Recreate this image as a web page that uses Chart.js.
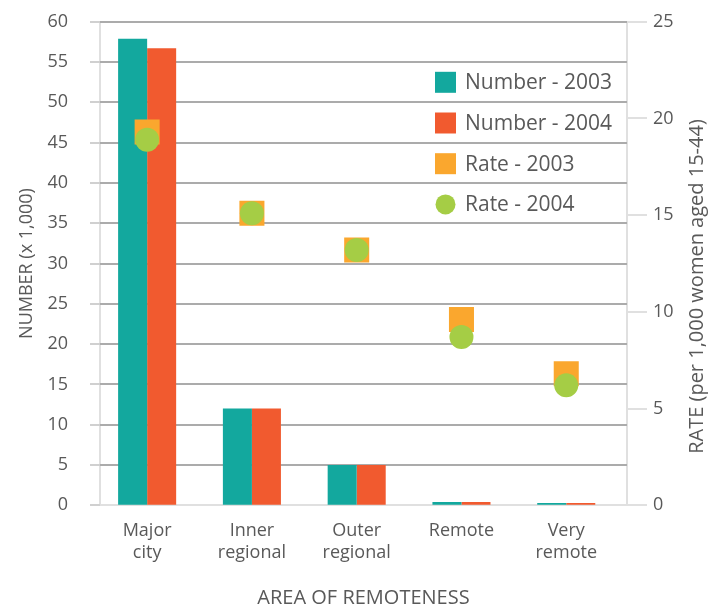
<!DOCTYPE html>
<html>
<head>
<meta charset="utf-8">
<title>Number and rate by area of remoteness</title>
<script src="https://cdn.jsdelivr.net/npm/chart.js@4/dist/chart.umd.min.js"></script>
<style>
    body { margin: 0; background: #ffffff; }
    #wrap { width: 722px; height: 610px; position: relative; }
</style>
</head>
<body>
<div id="wrap"><canvas id="remotenessChart"></canvas></div>
<script>
// Chart data
const categories = [['Major', 'city'], ['Inner', 'regional'], ['Outer', 'regional'], 'Remote', ['Very', 'remote']];
const number2003 = [57.9, 12.0, 5.0, 0.4, 0.3];
const number2004 = [56.7, 12.0, 5.0, 0.4, 0.3];
const rate2003 = [19.3, 15.1, 13.2, 9.6, 6.8];
const rate2004 = [18.9, 15.1, 13.2, 8.7, 6.2];
const numberTicks = [0, 5, 10, 15, 20, 25, 30, 35, 40, 45, 50, 55, 60];
const rateTicks = [0, 5, 10, 15, 20, 25];

const xTitle = 'AREA OF REMOTENESS';
const leftTitle = 'NUMBER (x 1,000)';
const rightTitle = 'RATE (per 1,000 women aged 15-44)';

// Colours
const theme = {
    teal: '#13a89e',
    red: '#f15a2f',
    orange: '#faa72e',
    green: '#a5cd45',
    text: '#595959',
    grid: '#ababab',
    axis: '#e0e0e0',
    tick: '#d0d0d0'
};

const FONT = "'Open Sans', 'Noto Sans', sans-serif";

// Horizontal grid lines and short left ticks, placed with the left scale
const numberGrid = {
    id: 'numberGrid',
    beforeDatasetsDraw(chart) {
        const ctx = chart.ctx;
        const y = chart.scales.y;
        const area = chart.chartArea;
        ctx.save();
        ctx.lineWidth = 2;
        numberTicks.forEach(v => {
            const py = Math.round(y.getPixelForValue(v));
            ctx.strokeStyle = theme.tick;
            ctx.beginPath();
            ctx.moveTo(area.left - 10, py);
            ctx.lineTo(area.left, py);
            ctx.stroke();
            if (v === 0) return;
            ctx.strokeStyle = theme.grid;
            ctx.beginPath();
            ctx.moveTo(area.left, py);
            ctx.lineTo(area.right, py);
            ctx.stroke();
        });
        ctx.restore();
    }
};

// Legend inside the plot area, top right (built from the datasets)
const insideLegend = {
    id: 'insideLegend',
    afterDraw(chart) {
        const ctx = chart.ctx;
        const boxX = 435, firstY = 82.3, rowGap = 40.7, box = 21;
        ctx.save();
        ctx.font = '21px ' + FONT;
        ctx.textAlign = 'left';
        ctx.textBaseline = 'middle';
        chart.data.datasets.forEach((ds, i) => {
            const cy = firstY + i * rowGap;
            ctx.fillStyle = ds.backgroundColor;
            ctx.beginPath();
            if (ds.pointStyle === 'circle') {
                ctx.arc(boxX + box / 2, cy, box / 2 - 0.5, 0, Math.PI * 2);
            } else {
                ctx.rect(boxX, cy - box / 2, box, box);
            }
            ctx.fill();
            ctx.fillStyle = theme.text;
            ctx.fillText(ds.label, boxX + box + 9, cy + 1);
        });
        ctx.restore();
    }
};

// Right axis title, reading bottom to top like the left one
const rightTitlePlugin = {
    id: 'rightTitle',
    afterDraw(chart) {
        const ctx = chart.ctx;
        const y2 = chart.scales.y2;
        ctx.save();
        ctx.translate(697, (y2.top + y2.bottom) / 2 + 23);
        ctx.rotate(-Math.PI / 2);
        ctx.font = '20px ' + FONT;
        ctx.fillStyle = theme.text;
        ctx.textAlign = 'center';
        ctx.textBaseline = 'middle';
        ctx.fillText(rightTitle, 0, 0);
        ctx.restore();
    }
};

const ctx = document.getElementById('remotenessChart');

new Chart(ctx, {
    data: {
        labels: categories,
        datasets: [
            {
                type: 'bar',
                label: 'Number - 2003',
                data: number2003,
                backgroundColor: theme.teal,
                borderWidth: 0,
                yAxisID: 'y',
                order: 2,
                categoryPercentage: 0.554,
                barPercentage: 1.0
            },
            {
                type: 'bar',
                label: 'Number - 2004',
                data: number2004,
                backgroundColor: theme.red,
                borderWidth: 0,
                yAxisID: 'y',
                order: 3,
                categoryPercentage: 0.554,
                barPercentage: 1.0
            },
            {
                type: 'line',
                label: 'Rate - 2003',
                data: rate2003,
                showLine: false,
                backgroundColor: theme.orange,
                borderColor: theme.orange,
                borderWidth: 0,
                pointStyle: 'rect',
                pointRadius: 17.7,
                pointBorderWidth: 0,
                pointBackgroundColor: theme.orange,
                yAxisID: 'y2',
                order: 1
            },
            {
                type: 'line',
                label: 'Rate - 2004',
                data: rate2004,
                showLine: false,
                backgroundColor: theme.green,
                borderColor: theme.green,
                borderWidth: 0,
                pointStyle: 'circle',
                pointRadius: 12,
                pointBorderWidth: 0,
                pointBackgroundColor: theme.green,
                yAxisID: 'y2',
                order: 0
            }
        ]
    },
    options: {
        responsive: true,
        maintainAspectRatio: false,
        animation: false,
        events: [],
        layout: {
            autoPadding: false,
            padding: { left: 4, right: 42.4, top: 21.7, bottom: 0 }
        },
        plugins: {
            tooltip: { enabled: false },
            legend: { display: false }
        },
        scales: {
            x: {
                type: 'category',
                offset: true,
                afterBuildTicks(scale) {
                    // slight shift so the groups sit where the reference puts them
                    scale._startValue = -0.45;
                    scale._valueRange = 5.03;
                },
                grid: { display: false, drawTicks: false },
                border: { display: true, color: theme.axis, width: 2 },
                ticks: {
                    color: theme.text,
                    padding: 15,
                    maxRotation: 0,
                    autoSkip: false,
                    font: { size: 18, lineHeight: 1.2, family: FONT }
                },
                title: {
                    display: true,
                    text: xTitle,
                    color: theme.text,
                    font: { size: 20, lineHeight: 1.2, family: FONT },
                    padding: { top: 7.5, bottom: 0 }
                }
            },
            y: {
                type: 'linear',
                position: 'left',
                min: numberTicks[0],
                max: numberTicks[numberTicks.length - 1],
                grid: {
                    drawOnChartArea: false,
                    tickLength: 22,
                    color: 'rgba(0,0,0,0)',
                    tickColor: 'rgba(0,0,0,0)'
                },
                border: { display: true, color: theme.axis, width: 2 },
                ticks: {
                    color: theme.text,
                    padding: 10,
                    stepSize: numberTicks[1] - numberTicks[0],
                    font: { size: 18, family: FONT }
                },
                title: {
                    display: true,
                    text: leftTitle,
                    color: theme.text,
                    font: { size: 18, lineHeight: 1.2, family: FONT },
                    padding: { top: 11.8, bottom: 0 }
                }
            },
            y2: {
                type: 'linear',
                position: 'right',
                min: rateTicks[0],
                max: rateTicks[rateTicks.length - 1],
                grid: {
                    drawOnChartArea: false,
                    tickLength: 20,
                    color: theme.axis,
                    tickColor: theme.axis,
                    lineWidth: 2
                },
                border: { display: true, color: theme.axis, width: 2 },
                ticks: {
                    color: theme.text,
                    padding: 6,
                    stepSize: rateTicks[1] - rateTicks[0],
                    font: { size: 18, family: FONT }
                },
                title: { display: false, text: rightTitle }
            }
        }
    },
    plugins: [numberGrid, insideLegend, rightTitlePlugin]
});
</script>
</body>
</html>
